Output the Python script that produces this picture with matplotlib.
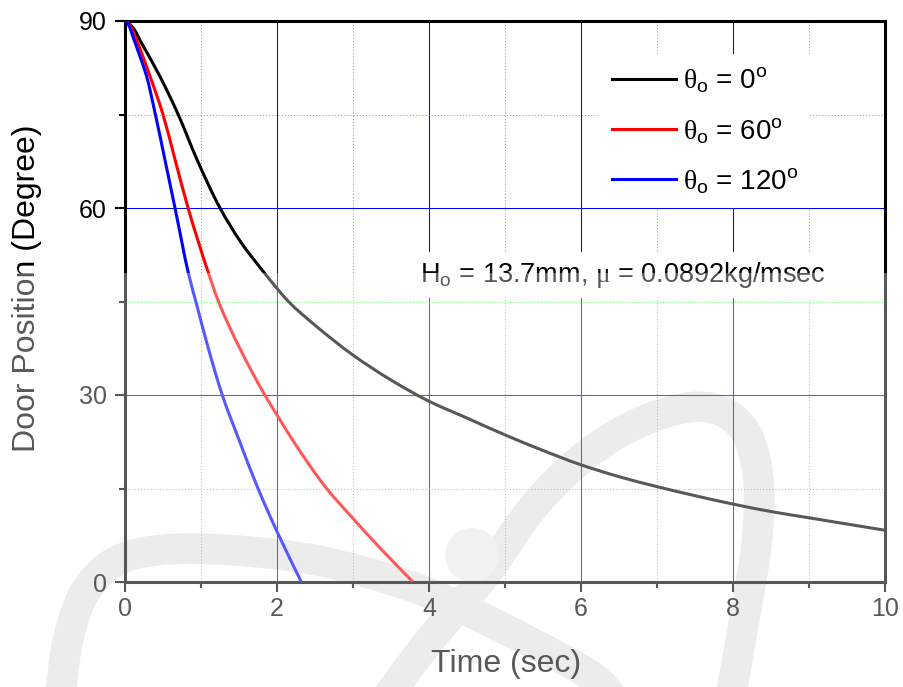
import numpy as np
import matplotlib
matplotlib.use("Agg")
import matplotlib.pyplot as plt
from matplotlib.path import Path
from matplotlib.patches import PathPatch, Circle, Rectangle
from matplotlib.lines import Line2D

plt.rcParams['font.family'] = ['Liberation Sans', 'DejaVu Sans']
plt.rcParams['mathtext.default'] = 'regular'
plt.rcParams['mathtext.fontset'] = 'custom'
plt.rcParams['mathtext.rm'] = 'Liberation Serif'
plt.rcParams['mathtext.it'] = 'Liberation Serif:italic'
plt.rcParams['mathtext.bf'] = 'Liberation Serif:bold'

# Door closing curves: time (sec) vs. door position (degree)
t_0deg = [0, 0.10, 0.22, 0.46, 0.70, 0.95, 1.25, 1.52, 1.84, 2.0, 2.15, 2.5,
          3.0, 3.5, 4.0, 4.5, 5.0, 5.5, 6.0, 6.5, 7.0, 7.5, 8.0, 8.5, 9.0, 9.5, 10.0]
pos_0deg = [90, 89.0, 86.4, 81.1, 75.0, 67.7, 60.0, 54.6, 49.5, 47.1, 45.0, 41.2,
            36.4, 32.4, 29.0, 26.3, 23.6, 21.1, 18.8, 16.9, 15.3, 13.85, 12.5, 11.3, 10.3, 9.3, 8.3]

t_60deg = [0, 0.06, 0.15, 0.33, 0.50, 0.66, 0.83, 1.10, 1.23, 1.51, 1.84, 2.0,
           2.22, 2.64, 3.0, 3.36, 3.79]
pos_60deg = [90, 89.4, 87.0, 81.1, 75.0, 67.7, 60.0, 49.5, 45.0, 37.5, 30.0, 26.8,
             22.5, 15.2, 10.2, 5.4, 0]

t_120deg = [0, 0.05, 0.11, 0.20, 0.285, 0.40, 0.526, 0.658, 0.835, 0.943, 1.096,
            1.28, 1.51, 1.75, 2.0, 2.32]
pos_120deg = [90, 89.3, 87.3, 84.2, 81.1, 75.0, 67.7, 60.0, 49.5, 44.5, 37.5,
              30.0, 22.5, 15.0, 8.1, 0]

series_labels = [r'$\mathrm{\theta}_{o}$ = 0$^{o}$', r'$\mathrm{\theta}_{o}$ = 60$^{o}$',
                 r'$\mathrm{\theta}_{o}$ = 120$^{o}$']
series_colors = ['#000000', '#ff0000', '#0000ff']
x_ticks = [0, 2, 4, 6, 8, 10]
y_ticks = [0, 30, 60, 90]
note_text = r'H$_{o}$ = 13.7mm, $\mathrm{\mu}$ = 0.0892kg/msec'

W, H = 904, 687
fig = plt.figure(figsize=(W / 100, H / 100), dpi=100)


def smooth(pts):
    """Catmull-Rom stroke through decoration points."""
    pts = np.asarray(pts, float)
    verts, codes = [pts[0]], [Path.MOVETO]
    n = len(pts)
    for i in range(n - 1):
        p0, p1, p2, p3 = pts[max(i - 1, 0)], pts[i], pts[i + 1], pts[min(i + 2, n - 1)]
        verts += [p1 + (p2 - p0) / 6, p2 - (p3 - p1) / 6, p2]
        codes += [Path.CURVE4] * 3
    return Path(verts, codes)


def hermite_path(x, y):
    """Monotone cubic (PCHIP-style) Bezier path through the data points."""
    x = np.asarray(x, float)
    y = np.asarray(y, float)
    h = np.diff(x)
    d = np.diff(y) / h
    m = np.zeros_like(x)
    for k in range(1, len(x) - 1):
        if d[k - 1] * d[k] > 0:
            w1 = 2 * h[k] + h[k - 1]
            w2 = h[k] + 2 * h[k - 1]
            m[k] = (w1 + w2) / (w1 / d[k - 1] + w2 / d[k])
    m[0] = 0.0          # door starts from rest
    m[-1] = d[-1]
    verts, codes = [(x[0], y[0])], [Path.MOVETO]
    for k in range(len(x) - 1):
        verts += [(x[k] + h[k] / 3, y[k] + m[k] * h[k] / 3),
                  (x[k + 1] - h[k] / 3, y[k + 1] - m[k + 1] * h[k] / 3),
                  (x[k + 1], y[k + 1])]
        codes += [Path.CURVE4] * 3
    return Path(verts, codes)


# faint background emblem
bg = fig.add_axes([0, 0, 1, 1])
bg.set_xlim(0, W)
bg.set_ylim(H, 0)
bg.axis('off')
bg.set_zorder(-1)
arc_a = [(60, 700), (68, 640), (85, 592), (115, 562), (160, 550), (230, 550),
         (320, 561), (410, 586), (470, 612), (530, 642), (590, 675), (615, 700)]
arc_b = [(385, 700), (430, 640), (485, 575), (535, 505), (590, 452), (650, 418),
         (705, 407), (742, 427), (758, 475), (757, 540), (746, 610), (730, 700)]
for pts in (arc_a, arc_b):
    bg.add_patch(PathPatch(smooth(pts), fill=False, ec='#e2e2e2', lw=22, capstyle='butt'))
bg.add_patch(Circle((472, 555), 27, fc='#ebebeb', ec='none'))

ax = fig.add_axes([125 / W, 1 - 582 / H, 760 / W, 561 / H])
ax.set_facecolor('none')

handles = []
for t, p, lab, c in zip([t_0deg, t_60deg, t_120deg], [pos_0deg, pos_60deg, pos_120deg],
                        series_labels, series_colors):
    ax.add_patch(PathPatch(hermite_path(t, p), fill=False, ec=c, lw=2.2, zorder=3,
                           capstyle='butt', joinstyle='round'))
    handles.append(Line2D([], [], color=c, lw=2.2, label=lab))

ax.set_xlim(0, 10)
ax.set_ylim(0, 90)
ax.set_xticks(x_ticks)
ax.set_xticks([1, 3, 5, 7, 9], minor=True)
ax.set_yticks(y_ticks)
ax.set_yticks([15, 45, 75], minor=True)
ax.grid(which='major', color='#0000ff', lw=0.75, ls='-')
ax.grid(which='minor', color='#00ff00', lw=0.75, ls=(0, (1, 2)))
ax.set_axisbelow(True)

ax.tick_params(which='major', direction='out', length=7.5, width=1.5, labelsize=18)
ax.tick_params(which='minor', direction='out', length=4, width=1.5)
ax.tick_params(axis='y', which='major', pad=5.5)
ax.tick_params(axis='x', which='major', pad=3.5)
for s in ax.spines.values():
    s.set_linewidth(2.2)

leg = ax.legend(handles=handles, loc='upper left',
                bbox_to_anchor=(600 / W, 1 - 54 / H),
                bbox_transform=fig.transFigure, frameon=True, fancybox=False,
                edgecolor='none', facecolor='white', framealpha=1, fontsize=20,
                handlelength=2.3, handletextpad=0.25, borderpad=0.43,
                labelspacing=0.74, borderaxespad=0)

fig.text(420 / W, 1 - 282 / H, note_text, fontsize=19.5, ha='left', va='baseline',
         bbox=dict(boxstyle='square,pad=0.3', fc='white', ec='none'), zorder=5)

fig.text(27 / W, 1 - 288 / H, 'Door Position (Degree)', fontsize=23, rotation=90,
         ha='center', va='center')
fig.text(506 / W, 1 - 672 / H, 'Time (sec)', fontsize=23, ha='center', va='baseline')

# light veil over the lower part of the figure
fig.add_artist(Rectangle((0, 0), 1, (H - 273) / H, transform=fig.transFigure,
                         fc='white', ec='none', alpha=0.35, zorder=20))

fig.savefig('out.png', dpi=100)
